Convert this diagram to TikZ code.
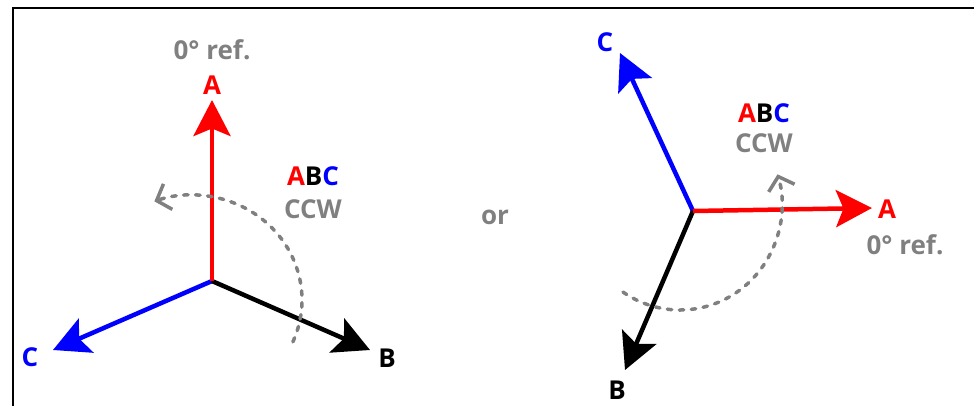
\documentclass[tikz,border=0pt]{standalone}
\usepackage{fontspec}
\setmainfont{Open Sans}
\usetikzlibrary{arrows.meta}
\definecolor{refgray}{HTML}{808080}
\definecolor{red}{HTML}{FF0000}
\definecolor{blue}{HTML}{0000FF}

\begin{document}
\begin{tikzpicture}[every node/.style={inner sep=0pt,font=\fontsize{14.8}{17}\selectfont\bfseries},
 vec/.style={line width=0.09cm,-{Stealth[length=0.72cm,width=0.74cm,inset=0.15cm]}},
 rot/.style={refgray,line width=0.07cm,line cap=round,dash pattern=on 0.09cm off 0.15cm,-{Straight Barb[length=0.24cm,width=0.54cm]}}]
\useasboundingbox (-4.24,-2.48) rectangle (15.24,5.62);
\draw[line width=0.045cm] (-3.98,-2.7)--(-3.98,5.46)--(15.5,5.46);
% A at 0 deg, pointing up
\coordinate (o1) at (0,0);\coordinate (a1) at (0,3.62);\coordinate (b1) at (3.16,-1.38);\coordinate (c1) at (-3.18,-1.38);
\draw[vec,blue] (o1)--(c1);
\draw[vec,black] (o1)--(b1);
\draw[vec,red] (o1)--(a1);
\node[red] (la1) at (0,3.92){A};\node[refgray] (ref1) at (0,4.62){0° ref.};
\node (lb1) at (3.5,-1.54){B};\node[blue] (lc1) at (-3.64,-1.52){C};
\node (abc1) at (2.02,2.1){\textcolor{red}{A}B\textcolor{blue}{C}};\node[refgray] (ccw1) at (2.02,1.44){CCW};
\draw[rot] ([shift={(-0.4,-0.38)}]-23.5:2.2 and 2.1) arc[start angle=-23.5,end angle=110,x radius=2.2,y radius=2.1];
\node[refgray] (or) at (5.66,1.28){or};
% A at 0 deg, pointing right
\begin{scope}[shift={(9.62,1.4)}]
\coordinate (o2) at (0,0);\coordinate (a2) at (3.58,0.06);\coordinate (b2) at (-1.36,-3.18);\coordinate (c2) at (-1.46,3.16);
\draw[vec,blue] (o2)--(c2);
\draw[vec,black] (o2)--(b2);
\draw[vec,red] (o2)--(a2);
\node[red] (la2) at (3.88,0.04){A};\node[refgray] (ref2) at (4.24,-0.68){0° ref.};
\node (lb2) at (-1.52,-3.58){B};\node[blue] (lc2) at (-1.76,3.38){C};
\node (abc2) at (1.42,1.96){\textcolor{red}{A}B\textcolor{blue}{C}};\node[refgray] (ccw2) at (1.42,1.36){CCW};
\draw[rot] ([shift={(-0.26,0.12)}]236:2.04 and 2.1) arc[start angle=236,end angle=377,x radius=2.04,y radius=2.1];
\end{scope}
\end{tikzpicture}
\end{document}
